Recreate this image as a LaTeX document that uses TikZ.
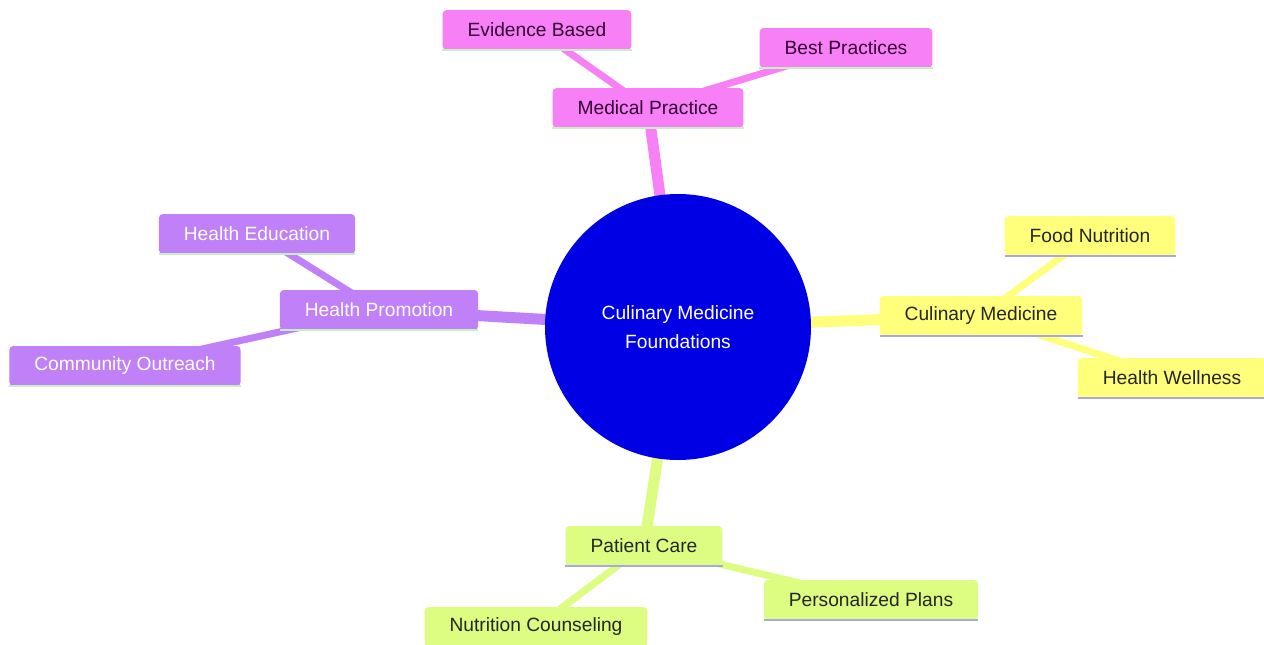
\documentclass[tikz,border=0pt]{standalone}
\usepackage{fontspec}
\setmainfont{Liberation Sans}
\usepackage{xcolor}
\usepackage{tikz}
\definecolor{rootblue}{HTML}{0000E4}
\definecolor{pinkfill}{HTML}{F880F6}
\definecolor{pinktext}{HTML}{330033}
\definecolor{purplefill}{HTML}{C080F8}
\definecolor{yellowfill}{HTML}{FFFF7C}
\definecolor{greenfill}{HTML}{DCFC82}
\definecolor{mintline}{HTML}{C6F0C0}
\definecolor{lavline}{HTML}{A8A8E4}
\tikzset{
  root/.style={circle, fill=rootblue, text=white, minimum size=266pt, align=center, font=\fontsize{19.2}{29}\selectfont},
  leaf/.style={rectangle, rounded corners=4pt, minimum height=40pt, inner xsep=25pt, font=\fontsize{19.2}{22}\selectfont},
  pinkbox/.style={leaf, fill=pinkfill, text=pinktext},
  purplebox/.style={leaf, fill=purplefill, text=white},
  yellowbox/.style={leaf, fill=yellowfill, text=black!85},
  greenbox/.style={leaf, fill=greenfill, text=black!85},
  trunk/.style={line width=11pt},
  twig/.style={line width=7pt}
}

\begin{document}
\begin{tikzpicture}[x=1pt,y=-1pt]
\useasboundingbox (0,0) rectangle (1264,645);
\coordinate (C) at (678,327);
% connectors first, so the boxes sit on top
\coordinate (mp) at (648,108);
\coordinate (eb) at (537,30);
\coordinate (bp) at (846,48);
\coordinate (hp) at (379,310);
\coordinate (he) at (257,234);
\coordinate (co) at (125,366);
\coordinate (cm) at (981,316);
\coordinate (fn) at (1090,236);
\coordinate (hw) at (1172,378);
\coordinate (pc) at (644,546);
\coordinate (nc) at (536,627);
\coordinate (pp) at (871,600);
\draw[trunk, pinkfill] (C)--(mp);
\draw[twig, pinkfill] (mp)--(eb) (mp)--(bp);
\draw[trunk, purplefill] (C)--(hp);
\draw[twig, purplefill] (hp)--(he) (hp)--(co);
\draw[trunk, yellowfill] (C)--(cm);
\draw[twig, yellowfill] (cm)--(fn) (cm)--(hw);
\draw[trunk, greenfill] (C)--(pc);
\draw[twig, greenfill] (pc)--(nc) (pc)--(pp);

\node[root] (root) at (C) {Culinary Medicine\\Foundations};

\node[pinkbox] (medical) at (mp) {Medical Practice};
\node[pinkbox] (evidence) at (eb) {Evidence Based};
\node[pinkbox] (best) at (bp) {Best Practices};
\node[purplebox] (promotion) at (hp) {Health Promotion};
\node[purplebox] (education) at (he) {Health Education};
\node[purplebox] (outreach) at (co) {Community Outreach};
\node[yellowbox] (culinary) at (cm) {Culinary Medicine};
\node[yellowbox] (food) at (fn) {Food Nutrition};
\node[yellowbox] (wellness) at (hw) {Health Wellness};
\node[greenbox] (care) at (pc) {Patient Care};
\node[greenbox] (counsel) at (nc) {Nutrition Counseling};
\node[greenbox] (plans) at (pp) {Personalized Plans};

% thin line under each box
\foreach \n in {medical,evidence,best,promotion,education,outreach}
  \draw[mintline, line width=2.5pt] (\n.south west)--(\n.south east);
\foreach \n in {culinary,food,wellness,care,counsel,plans}
  \draw[lavline, line width=2.5pt] (\n.south west)--(\n.south east);
\end{tikzpicture}
\end{document}
